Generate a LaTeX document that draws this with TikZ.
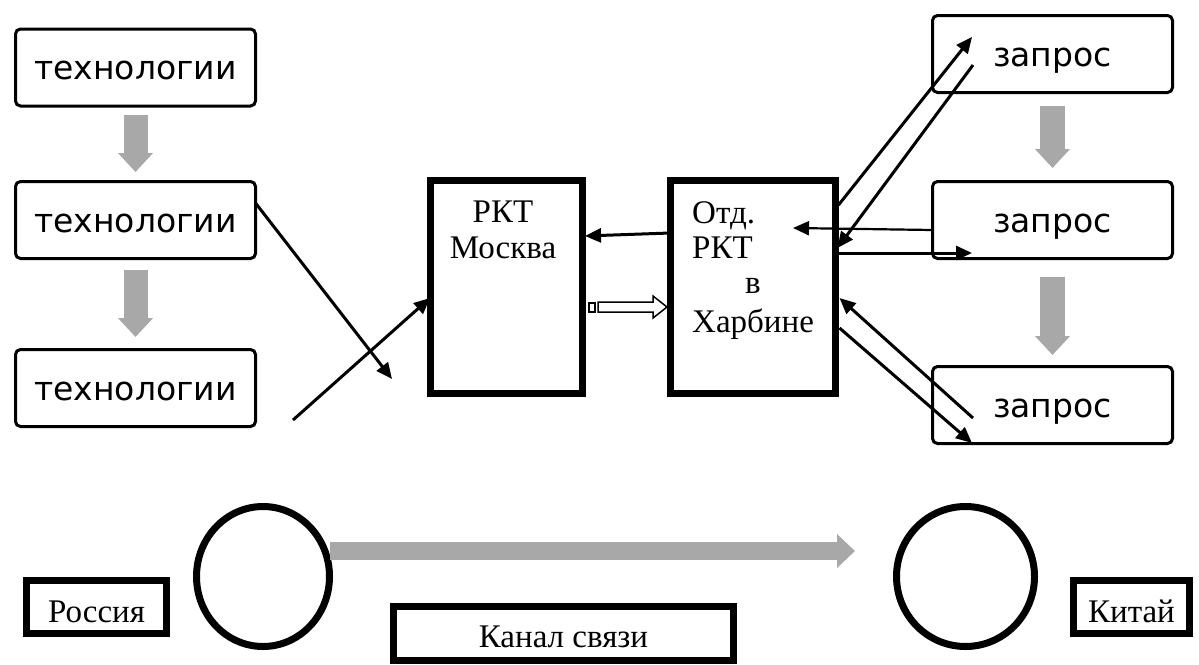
\documentclass[tikz,border=0pt]{standalone}
\usepackage{fontspec}
\setmainfont{Liberation Serif}
\newfontfamily\sansf{DejaVu Sans}
\usetikzlibrary{arrows.meta,calc,shapes.geometric}
\definecolor{garr}{RGB}{168,168,168}
\begin{document}
\begin{tikzpicture}[x=1pt,y=-1pt,
  sbox/.style={draw,line width=3pt,rounded corners=5pt,inner sep=0pt,outer sep=0pt,
     minimum width=240pt,minimum height=77pt,font=\sansf\fontsize{33}{36}\selectfont,
     text height=24pt,text depth=0pt},
  bigbox/.style={draw,line width=7pt,inner sep=0pt,outer sep=0pt},
  lbox/.style={draw,line width=7pt,inner sep=0pt,outer sep=0pt,minimum height=53pt,
     font=\fontsize{33}{36}\selectfont,text height=30pt,text depth=0pt},
  circ/.style={draw,ellipse,line width=7pt,inner sep=0pt,outer sep=0pt,
     minimum width=133pt,minimum height=140pt},
  stxt/.style={font=\fontsize{33}{36}\selectfont,inner sep=0pt},
  arr/.style={line width=3pt,-{Triangle[length=16pt,width=14pt]}},
  garrow/.style={draw=garr,line width=24pt,-{Triangle[length=19pt,width=34pt]}}
]
\useasboundingbox (0,0) rectangle (1199,664);

% left column
\node[sbox] (t1) at (135.5,67.5) {технологии};
\node[sbox] (t2) at (135.5,220) {технологии};
\node[sbox] (t3) at (135.5,388) {технологии};
\draw[garrow,shorten <=8.5pt,shorten >=9.5pt] (t1) -- (t2);
\draw[garrow,shorten <=11.5pt,shorten >=12.5pt] (t2) -- (t3);

% right column
\node[sbox] (z1) at (1052.5,54) {запрос};
\node[sbox] (z2) at (1052.5,220) {запрос};
\node[sbox] (z3) at (1052.5,405) {запрос};
\draw[garrow,line width=25pt,shorten <=13.5pt,shorten >=13.5pt] (z1) -- (z2);
\draw[garrow,line width=25pt,shorten <=18.5pt,shorten >=11.5pt] (z2) -- (z3);

% central boxes
\node[bigbox,minimum width=152pt,minimum height=213pt] (m) at (506,286.5) {};
\node[bigbox,minimum width=165.5pt,minimum height=213pt] (h) at (752.75,286.5) {};
\node[stxt,anchor=base] (m1) at (503,222) {РКТ};
\node[stxt,anchor=base] (m2) at (503,258) {Москва};
\node[stxt,anchor=base west] (h1) at (692,223) {Отд.};
\node[stxt,anchor=base west] (h2) at (692,258) {РКТ};
\node[stxt,anchor=base] (h3) at (753,293) {в};
\node[stxt,anchor=base west] (h4) at (692,332) {Харбине};

% free ends
\coordinate (a1) at (392,379);
\coordinate (b0) at (293,420);
\coordinate (r1) at (972,37);
\coordinate (r2) at (973,65);
\coordinate (r3) at (793,228);
\coordinate (r4) at (972,253);
\coordinate (r5) at (973,418);
\coordinate (r6) at (972,443);

% black connectors
\draw[arr] ([yshift=17pt]t2.east) -- (a1);
\draw[arr] (b0) -- ([yshift=-11.5pt]m.west);
\draw[arr] ([yshift=53.5pt]h.west) -- ([xshift=3pt,yshift=50.5pt]m.east);
\draw[arr] ([xshift=3pt,yshift=81.5pt]h.east) -- (r1);
\draw[arr] (r2) -- ([xshift=2pt,yshift=38.5pt]h.east);
\draw[arr,line width=2.2pt] ([yshift=-10pt]z2.west) -- (r3);
\draw[arr] ([xshift=3pt,yshift=33.5pt]h.east) -- (r4);
\draw[arr] (r5) -- ([xshift=4pt,yshift=-11.5pt]h.east);
\draw[arr] ([xshift=4pt,yshift=-41.5pt]h.east) -- (r6);

% hollow arrow Moscow -> Harbin
\draw[line width=1.5pt] ($(m.east)+(7,16.5)$) rectangle ($(m.east)+(13,25.5)$);
\draw[line width=1.5pt,line join=miter]
  ($(m.east)+(16,15.5)$) -- ($(h.west)+(-17,15.5)$) -- ($(h.west)+(-17,9.5)$)
  -- ($(h.west)+(-3,20.5)$) -- ($(h.west)+(-17,31.5)$) -- ($(h.west)+(-17,25.5)$)
  -- ($(m.east)+(16,25.5)$) -- cycle;

% bottom
\node[circ] (c1) at (263,576.5) {};
\node[circ,minimum width=138pt] (c2) at (965.5,576.5) {};
\coordinate (g1) at (855,551);
\draw[garrow,line width=18pt,-{Triangle[length=18pt,width=33pt]}] ([yshift=25.5pt]c1.east) -- (g1);
\node[lbox,minimum width=140pt] (ru) at (96.5,607) {Россия};
\node[lbox,minimum width=116pt] (cn) at (1131.5,607) {Китай};
\node[lbox,minimum width=340pt,minimum height=54pt,text height=27pt] (k) at (563.5,633.5) {Канал связи};
\end{tikzpicture}
\end{document}
